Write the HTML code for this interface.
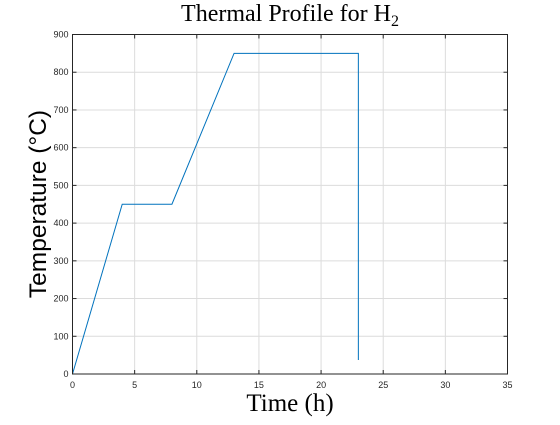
<!DOCTYPE html>
<html><head><meta charset="utf-8"><style>
body{margin:0;background:#fff;}
svg text{font-family:"Liberation Sans",sans-serif;}
</style></head><body>
<svg id="chart" width="560" height="420" xmlns="http://www.w3.org/2000/svg">
<rect width="560" height="420" fill="#fff"/>
<g id="grid"></g>
<g id="ticks"></g>
<path id="line" fill="none" stroke="#0072BD" stroke-width="1"/>
<rect x="72.5" y="34.5" width="435" height="339.5" fill="none" stroke="#262626" stroke-width="1"/>
<text x="290" y="21" text-anchor="middle" font-size="24" style="font-family:'Liberation Serif',serif">Thermal Profile for H<tspan font-size="16" dy="5">2</tspan></text>
<text x="290" y="411" text-anchor="middle" font-size="25" style="font-family:'Liberation Serif',serif">Time (h)</text>
<text transform="translate(46,204) rotate(-90)" text-anchor="middle" font-size="24.5">Temperature (°C)</text>
</svg>
<script>
const times=[0,4,8,13,23,23];
const temps=[0,450,450,850,850,37];
const xTicks=[0,5,10,15,20,25,30,35];
const yTicks=[0,100,200,300,400,500,600,700,800,900];
const L=72.5,R=507.5,T=34.5,B=374;
const xs=v=>L+(v-0)/(35-0)*(R-L);
const ys=v=>B-(v-0)/(900-0)*(B-T);
const ns="http://www.w3.org/2000/svg";
const grid=document.getElementById('grid'),tk=document.getElementById('ticks');
function mk(tag,a,p){const e=document.createElementNS(ns,tag);for(const k in a)e.setAttribute(k,a[k]);p.appendChild(e);return e;}
xTicks.forEach(v=>{const x=xs(v);
 const g=mk('line',{x1:x,x2:x,y1:T,y2:B,stroke:'#dcdcdc','stroke-width':1},grid);
 
 
 mk('line',{x1:x,x2:x,y1:B,y2:B-4,stroke:'#262626'},tk);
 mk('line',{x1:x,x2:x,y1:T,y2:T+4,stroke:'#262626'},tk);
 const t=mk('text',{x:x,y:B+14,'text-anchor':'middle','font-size':9,fill:'#262626'},tk);t.textContent=v;
 
 });
yTicks.forEach(v=>{const y=ys(v);
 const g=mk('line',{x1:L,x2:R,y1:y,y2:y,stroke:'#dcdcdc','stroke-width':1},grid);
 
 
 mk('line',{x1:L,x2:L+4,y1:y,y2:y,stroke:'#262626'},tk);
 mk('line',{x1:R,x2:R-4,y1:y,y2:y,stroke:'#262626'},tk);
 const t=mk('text',{x:L-4,y:y+3,'text-anchor':'end','font-size':9,fill:'#262626'},tk);t.textContent=v;
 
 });
document.getElementById('line').setAttribute('d',times.map((t,i)=>(i?'L':'M')+xs(t)+','+ys(temps[i])).join(' '));
</script>
</body></html>
